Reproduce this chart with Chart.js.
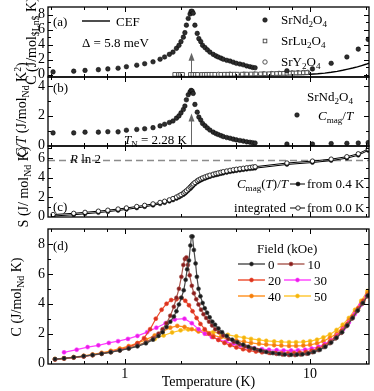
<!DOCTYPE html>
<html>
<head>
<meta charset="utf-8">
<script src="https://cdn.jsdelivr.net/npm/chart.js@4.4.1/dist/chart.umd.min.js"></script>
<style>
  html, body { margin: 0; padding: 0; background: #fff; }
  #wrap { position: relative; width: 374px; height: 391px; }
  #wrap canvas { position: absolute; left: 0; top: 0; }
</style>
</head>
<body>
<div id="wrap">
  <canvas id="panelA" width="374" height="391"></canvas>
  <canvas id="panelB" width="374" height="391"></canvas>
  <canvas id="panelC" width="374" height="391"></canvas>
  <canvas id="panelD" width="374" height="391"></canvas>
</div>
<script>
// ---- data ----
var tempNd = [0.41,0.53,0.61,0.72,0.81,0.92,1.02,1.16,1.28,1.42,1.55,1.64,1.74,1.82,1.90,1.96,2.01,2.07,2.11,2.15,2.20,2.25,2.28,2.31,2.34,2.39,2.46,2.51,2.57,2.63,2.71,2.79,2.88,3.0,3.1,3.19,3.3,3.4,3.55,3.7,3.85,4.0,4.18,4.36,4.55,4.74,4.9,5.05,7.5,10.3,13.0,15.8,18.2,20.6];
var cNd = [0.35,0.45,0.55,0.65,0.75,0.85,1.05,1.25,1.45,1.7,2.05,2.35,2.7,3.0,3.5,3.9,4.4,5.0,5.6,6.6,7.5,8.1,8.45,8.45,8.2,6.6,5.5,4.8,4.4,3.9,3.6,3.3,3.0,2.7,2.5,2.35,2.2,2.05,1.9,1.8,1.65,1.5,1.4,1.3,1.15,1.05,0.95,0.9,0.5,0.75,1.5,2.35,3.4,4.7];
var cmagOverT = [0.85,0.85,0.9,0.9,0.93,0.92,1.03,1.08,1.13,1.2,1.32,1.43,1.55,1.65,1.84,1.99,2.19,2.42,2.65,3.07,3.41,3.6,3.7,3.66,3.5,2.76,2.24,1.91,1.71,1.48,1.33,1.18,1.04,0.9,0.81,0.74,0.67,0.6,0.54,0.49,0.43,0.38,0.34,0.3,0.25,0.22,0.19,0.17,0.1,0.1,0.13,0.15,0.17,0.2];
var sFrom04 = [0.05,0.18,0.28,0.4,0.5,0.62,0.73,0.88,1.0,1.15,1.3,1.42,1.56,1.7,1.85,1.98,2.1,2.25,2.37,2.5,2.68,2.85,2.96,3.08,3.2,3.35,3.52,3.63,3.73,3.82,3.92,4.01,4.1,4.2,4.27,4.33,4.4,4.46,4.53,4.6,4.66,4.71,4.76,4.81,4.86,4.9,4.94,4.97,5.35,5.55,5.75,6.0,6.3,6.8];
var sFrom00 = [0.2,0.33,0.43,0.55,0.65,0.77,0.88,1.03,1.15,1.3,1.45,1.57,1.71,1.85,2.0,2.13,2.25,2.4,2.52,2.65,2.83,3.0,3.11,3.23,3.35,3.5,3.67,3.78,3.88,3.97,4.07,4.16,4.25,4.35,4.42,4.48,4.55,4.61,4.68,4.75,4.81,4.86,4.91,4.96,5.01,5.05,5.09,5.12,5.5,5.7,5.9,6.15,6.45,6.95];

var tempLu = [1.86,1.95,2.0,2.05,2.26,2.33,2.4,2.47,2.6,2.68,2.76,2.85,2.95,3.06,3.3,3.45,3.6,3.75,3.9,4.05,4.3,4.55,4.8,5.1,5.4,5.7,6.0,6.3,6.6,6.9,7.2,7.5,7.8,8.1,8.4,8.8,9.2,9.6];
var cLu = [0.02,0.02,0.02,0.02,0.02,0.02,0.02,0.02,0.02,0.02,0.03,0.03,0.03,0.03,0.03,0.04,0.04,0.04,0.05,0.05,0.05,0.06,0.07,0.08,0.09,0.1,0.11,0.12,0.14,0.15,0.16,0.18,0.19,0.2,0.21,0.22,0.24,0.26];
var tempY = [3.2,3.7,4.4,5.0,5.6,6.2,6.8,7.4,8.0,8.6,9.2,9.7];
var cY = [0.03,0.04,0.05,0.07,0.1,0.13,0.16,0.2,0.23,0.26,0.28,0.3];
var tempCef = [3,5,8,9,10,11,12,13,14,15,16,17,18,19,20,20.8];
var cCef = [0,0,0,0.01,0.04,0.1,0.19,0.3,0.43,0.57,0.72,0.87,1.03,1.2,1.37,1.52];

var fieldValues = [0, 10, 20, 30, 40, 50];
var field0 = [[0.42,0.3],[0.47,0.35],[0.53,0.42],[0.6,0.5],[0.67,0.58],[0.75,0.66],[0.84,0.76],[0.94,0.88],[1.05,1.0],[1.17,1.15],[1.3,1.35],[1.42,1.6],[1.52,1.85],[1.6,2.1],[1.68,2.45],[1.76,2.8],[1.84,3.15],[1.9,3.5],[1.96,3.95],[2.02,4.4],[2.08,4.9],[2.13,5.6],[2.17,6.3],[2.22,6.9],[2.26,7.9],[2.29,8.5],[2.32,8.5],[2.36,7.6],[2.41,6.7],[2.45,5.8],[2.5,5.0],[2.56,4.5],[2.63,4.05],[2.7,3.7],[2.78,3.4],[2.87,3.1],[2.97,2.8],[3.07,2.6],[3.2,2.35],[3.35,2.1],[3.55,1.85],[3.8,1.6],[4.05,1.42],[4.35,1.26],[4.65,1.12],[5.0,1.0],[5.4,0.88],[5.8,0.78],[6.3,0.7],[6.8,0.65],[7.3,0.61],[7.9,0.59],[8.5,0.6],[9.1,0.62],[9.8,0.68],[10.5,0.78],[11.3,0.92],[12.1,1.12],[13.0,1.4],[13.9,1.72],[14.9,2.1],[15.9,2.55],[17.0,3.05],[18.1,3.55],[19.3,4.05],[20.5,4.55]];
var field10 = [[0.42,0.28],[0.47,0.34],[0.53,0.4],[0.6,0.48],[0.67,0.56],[0.75,0.65],[0.84,0.76],[0.94,0.88],[1.05,1.02],[1.17,1.2],[1.3,1.42],[1.42,1.7],[1.52,2.0],[1.6,2.3],[1.68,2.7],[1.76,3.2],[1.84,3.8],[1.9,4.4],[1.96,5.0],[2.02,5.8],[2.07,6.6],[2.11,7.0],[2.15,7.1],[2.19,6.6],[2.24,5.9],[2.3,5.2],[2.36,4.7],[2.43,4.3],[2.5,3.95],[2.58,3.6],[2.66,3.3],[2.75,3.05],[2.85,2.8],[2.96,2.55],[3.08,2.3],[3.22,2.1],[3.4,1.88],[3.62,1.65],[3.88,1.45],[4.15,1.3],[4.45,1.16],[4.8,1.03],[5.2,0.9],[5.6,0.8],[6.1,0.71],[6.6,0.65],[7.1,0.6],[7.7,0.57],[8.3,0.57],[8.9,0.6],[9.6,0.66],[10.3,0.76],[11.1,0.9],[11.9,1.1],[12.8,1.36],[13.7,1.68],[14.7,2.05],[15.7,2.5],[16.8,3.0],[17.9,3.5],[19.1,4.0],[20.4,4.5]];
var field20 = [[0.42,0.27],[0.47,0.33],[0.53,0.4],[0.6,0.48],[0.67,0.57],[0.75,0.67],[0.84,0.79],[0.94,0.93],[1.05,1.1],[1.17,1.35],[1.27,1.7],[1.37,2.3],[1.47,3.0],[1.58,3.6],[1.68,4.0],[1.78,4.25],[1.9,4.3],[2.02,4.4],[2.12,4.2],[2.22,3.9],[2.32,3.5],[2.44,3.05],[2.56,2.65],[2.7,2.3],[2.85,2.0],[3.0,1.78],[3.2,1.58],[3.45,1.38],[3.7,1.22],[4.0,1.08],[4.35,0.96],[4.7,0.87],[5.1,0.8],[5.5,0.75],[6.0,0.72],[6.5,0.7],[7.0,0.69],[7.6,0.69],[8.2,0.7],[8.8,0.73],[9.5,0.78],[10.2,0.86],[11.0,1.0],[11.9,1.2],[12.8,1.47],[13.8,1.8],[14.8,2.2],[15.9,2.65],[17.0,3.15],[18.2,3.7],[19.4,4.2],[20.5,4.55]];
var field30 = [[0.47,0.75],[0.55,0.93],[0.63,1.1],[0.72,1.22],[0.82,1.38],[0.92,1.5],[1.04,1.65],[1.17,1.85],[1.32,2.1],[1.48,2.4],[1.66,2.7],[1.86,2.95],[2.1,3.0],[2.3,2.7],[2.5,2.3],[2.7,2.0],[2.95,1.78],[3.2,1.6],[3.5,1.45],[3.85,1.32],[4.2,1.2],[4.6,1.1],[5.0,1.02],[5.5,0.96],[6.0,0.92],[6.6,0.9],[7.2,0.88],[7.9,0.88],[8.6,0.89],[9.4,0.93],[10.2,1.0],[11.1,1.12],[12.0,1.3],[13.0,1.55],[14.0,1.88],[15.1,2.3],[16.2,2.75],[17.4,3.3],[18.7,3.9],[20.2,4.5]];
var field40 = [[0.42,0.3],[0.47,0.36],[0.53,0.43],[0.6,0.52],[0.67,0.61],[0.75,0.72],[0.84,0.85],[0.94,1.0],[1.05,1.17],[1.17,1.37],[1.3,1.6],[1.45,1.88],[1.6,2.15],[1.76,2.4],[1.92,2.52],[2.1,2.45],[2.3,2.3],[2.5,2.15],[2.75,2.0],[3.0,1.88],[3.3,1.76],[3.6,1.65],[4.0,1.55],[4.4,1.46],[4.8,1.38],[5.3,1.32],[5.8,1.27],[6.4,1.23],[7.0,1.2],[7.7,1.18],[8.4,1.18],[9.2,1.2],[10.0,1.25],[10.9,1.35],[11.8,1.5],[12.8,1.72],[13.9,2.0],[15.0,2.4],[16.2,2.9],[17.5,3.45],[18.9,4.05],[20.4,4.7]];
var field50 = [[0.42,0.3],[0.47,0.35],[0.53,0.41],[0.6,0.49],[0.67,0.57],[0.75,0.66],[0.84,0.77],[0.94,0.9],[1.05,1.05],[1.17,1.22],[1.3,1.42],[1.45,1.65],[1.62,1.88],[1.8,2.08],[2.0,2.22],[2.2,2.28],[2.45,2.25],[2.7,2.18],[3.0,2.1],[3.3,2.0],[3.6,1.92],[4.0,1.82],[4.4,1.73],[4.8,1.65],[5.3,1.58],[5.8,1.52],[6.4,1.48],[7.0,1.45],[7.7,1.43],[8.4,1.43],[9.2,1.45],[10.0,1.5],[10.9,1.6],[11.8,1.75],[12.8,1.95],[13.9,2.25],[15.0,2.6],[16.2,3.05],[17.5,3.6],[18.9,4.2],[20.4,4.85]];

var xLabelTicks = [1, 10];
var xMinorTicks = [0.4, 0.6, 0.8, 2, 4, 6, 8, 20];
var yTicksA = [0, 2, 4, 6, 8], yMinorA = [1, 3, 5, 7, 9];
var yTicksB = [0, 2, 4], yMinorB = [1, 3];
var yTicksC = [0, 2, 4, 6], yMinorC = [1, 3, 5, 7];
var yTicksD = [0, 2, 4, 6, 8], yMinorD = [1, 3, 5, 7];

var TN = 2.28, RLN2 = 5.76;
var X_MIN = 0.385, X_MAX = 20.8;

// ---- helpers ----
var SERIF = '"Liberation Serif", "Times New Roman", serif';
var tickFont = { family: SERIF, size: 14 };

function pts(xs, ys) { return xs.map(function (x, i) { return { x: x, y: ys[i] }; }); }
function pairs(list) { return list.map(function (p) { return { x: p[0], y: p[1] }; }); }

// tiny rich text: $..$ italic, _{..} subscript, ^{..} superscript
function parseRich(str) {
  var out = [], italic = false, buf = '', i = 0;
  function flush() { if (buf) out.push({ text: buf, mode: 0, italic: italic }); buf = ''; }
  while (i < str.length) {
    var c = str[i];
    if (c === '$') { flush(); italic = !italic; i++; }
    else if ((c === '_' || c === '^') && str[i + 1] === '{') {
      flush();
      var end = str.indexOf('}', i);
      out.push({ text: str.slice(i + 2, end), mode: c === '_' ? 1 : -1, italic: italic });
      i = end + 1;
    } else { buf += c; i++; }
  }
  flush();
  return out;
}
function rich(ctx, str, x, y, size, align) {
  var parts = parseRich(str), w = 0;
  function font(p) { return (p.italic ? 'italic ' : '') + (p.mode ? size * 0.7 : size) + 'px ' + SERIF; }
  parts.forEach(function (p) { ctx.font = font(p); p.w = ctx.measureText(p.text).width; w += p.w; });
  var cx = align === 'center' ? x - w / 2 : align === 'right' ? x - w : x;
  ctx.textAlign = 'left'; ctx.textBaseline = 'alphabetic'; ctx.fillStyle = '#000';
  parts.forEach(function (p) {
    ctx.font = font(p);
    var dy = p.mode === 1 ? size * 0.25 : p.mode === -1 ? -size * 0.38 : 0;
    ctx.fillText(p.text, cx, y + dy);
    cx += p.w;
  });
  return w;
}
function vTitle(ctx, str, xc, yc, size) {
  ctx.save(); ctx.translate(xc, yc); ctx.rotate(-Math.PI / 2);
  rich(ctx, str, 0, size * 0.35, size, 'center');
  ctx.restore();
}
function dot(ctx, x, y, r, fill, stroke, lw) {
  ctx.beginPath(); ctx.arc(x, y, r, 0, Math.PI * 2);
  ctx.fillStyle = fill; ctx.fill();
  if (stroke) { ctx.lineWidth = lw || 0.8; ctx.strokeStyle = stroke; ctx.stroke(); }
}
function upArrow(ctx, x, y0, y1) {
  ctx.strokeStyle = '#666'; ctx.fillStyle = '#666'; ctx.lineWidth = 1;
  ctx.beginPath(); ctx.moveTo(x, y0); ctx.lineTo(x, y1 + 5); ctx.stroke();
  ctx.beginPath(); ctx.moveTo(x, y1); ctx.lineTo(x - 3, y1 + 8); ctx.lineTo(x + 3, y1 + 8); ctx.closePath(); ctx.fill();
}

function framePlugin(yMajor, yMinor) {
  return {
    id: 'frame',
    afterDatasetsDraw: function (chart) {
      var ctx = chart.ctx, a = chart.chartArea, xs = chart.scales.x, ys = chart.scales.y;
      ctx.save();
      ctx.strokeStyle = '#000'; ctx.lineWidth = 1;
      ctx.beginPath();
      function vt(vals, len) {
        vals.forEach(function (v) {
          var px = Math.round(xs.getPixelForValue(v)) + 0.5;
          if (px <= a.left + 1 || px >= a.right - 1) return;
          ctx.moveTo(px, a.top); ctx.lineTo(px, a.top + len);
          ctx.moveTo(px, a.bottom); ctx.lineTo(px, a.bottom - len);
        });
      }
      function ht(vals, len) {
        vals.forEach(function (v) {
          var py = Math.round(ys.getPixelForValue(v)) + 0.5;
          if (py <= a.top + 1 || py >= a.bottom - 1) return;
          ctx.moveTo(a.left, py); ctx.lineTo(a.left + len, py);
          ctx.moveTo(a.right, py); ctx.lineTo(a.right - len, py);
        });
      }
      vt(xLabelTicks, 5); vt(xMinorTicks, 3); ht(yMajor, 5); ht(yMinor, 3);
      ctx.stroke();
      ctx.lineWidth = 1.3;
      ctx.strokeRect(a.left, a.top, a.right - a.left, a.bottom - a.top);
      ctx.restore();
    }
  };
}
function notes(fn) { return { id: 'notes', afterDraw: function (chart) { var c = chart.ctx; c.save(); fn(c, chart); c.restore(); } }; }

function yAxis(min, max, ticks) {
  return {
    type: 'linear', min: min, max: max,
    grid: { display: false, drawTicks: false }, border: { display: false },
    ticks: { font: tickFont, color: '#000', padding: 3, autoSkip: false },
    afterBuildTicks: function (s) { s.ticks = ticks.map(function (v) { return { value: v }; }); },
    afterFit: function (s) { s.width = 48; s.paddingTop = 0; s.paddingBottom = 0; }
  };
}
function hiddenX() {
  return { type: 'logarithmic', min: X_MIN, max: X_MAX, display: false };
}
function makeChart(id, datasets, padTop, padBottom, xScale, yScale, plugins) {
  return new Chart(document.getElementById(id), {
    type: 'scatter',
    data: { datasets: datasets },
    options: {
      responsive: false, animation: false, events: [],
      layout: { padding: { left: 0, right: 5, top: padTop, bottom: padBottom } },
      plugins: { legend: { display: false }, tooltip: { enabled: false } },
      scales: { x: xScale, y: yScale }
    },
    plugins: plugins
  });
}

var ndPoint = { showLine: false, pointRadius: 2.3, pointBackgroundColor: '#2e2e2e', pointBorderColor: '#000', pointBorderWidth: 0.5 };
function withStyle(style, extra) { return Object.assign({}, style, extra); }

// ---- panel (a) ----
makeChart('panelA', [
  withStyle(ndPoint, { label: 'SrNd2O4', data: pts(tempNd, cNd) }),
  { label: 'SrLu2O4', data: pts(tempLu, cLu), showLine: false, pointStyle: 'rect', pointRadius: 2.6, pointBackgroundColor: '#fff', pointBorderColor: '#444', pointBorderWidth: 0.9 },
  { label: 'SrY2O4', data: pts(tempY, cY), showLine: false, pointRadius: 2.2, pointBackgroundColor: '#fff', pointBorderColor: '#444', pointBorderWidth: 0.9 },
  { label: 'CEF', data: pts(tempCef, cCef), showLine: true, pointRadius: 0, borderColor: '#000', borderWidth: 1.4 }
], 7, 391 - 77, hiddenX(), yAxis(-0.33, 9.03, yTicksA), [
  framePlugin(yTicksA, yMinorA),
  notes(function (ctx, chart) {
    var xs = chart.scales.x, ys = chart.scales.y;
    rich(ctx, '(a)', 53, 26, 13);
    ctx.strokeStyle = '#000'; ctx.lineWidth = 1.4;
    ctx.beginPath(); ctx.moveTo(82, 21); ctx.lineTo(110, 21); ctx.stroke();
    rich(ctx, 'CEF', 116, 26, 13);
    rich(ctx, '\u0394 = 5.8 meV', 82, 47, 13);
    dot(ctx, 265, 20, 2.3, '#2e2e2e', '#000', 0.5);
    rich(ctx, 'SrNd_{2}O_{4}', 281, 24, 13);
    ctx.fillStyle = '#fff'; ctx.strokeStyle = '#444'; ctx.lineWidth = 0.9;
    ctx.fillRect(263.2, 39.2, 3.6, 3.6); ctx.strokeRect(263.2, 39.2, 3.6, 3.6);
    rich(ctx, 'SrLu_{2}O_{4}', 281, 45, 13);
    dot(ctx, 265, 62, 2.2, '#fff', '#444', 0.9);
    rich(ctx, 'SrY_{2}O_{4}', 281, 66, 13);
    upArrow(ctx, Math.round(xs.getPixelForValue(TN)) + 0.5, ys.getPixelForValue(0.3), ys.getPixelForValue(2.9));
    vTitle(ctx, 'C (J/mol_{$Ln$} K)', 31, 41, 14);
  })
]);

// ---- panel (b) ----
makeChart('panelB', [
  withStyle(ndPoint, { label: 'Cmag/T', data: pts(tempNd, cmagOverT) })
], 77, 391 - 146, hiddenX(), yAxis(-0.03, 4.6, yTicksB), [
  framePlugin(yTicksB, yMinorB),
  notes(function (ctx, chart) {
    var xs = chart.scales.x, ys = chart.scales.y;
    rich(ctx, '(b)', 53, 92, 13);
    rich(ctx, 'SrNd_{2}O_{4}', 307, 101, 13);
    dot(ctx, 297, 115, 2.3, '#2e2e2e', '#000', 0.5);
    rich(ctx, '$C$_{mag}/$T$', 318, 120, 13);
    rich(ctx, '$T$_{N} = 2.28 K', 187, 144, 13, 'right');
    upArrow(ctx, Math.round(xs.getPixelForValue(TN)) + 0.5, ys.getPixelForValue(0.05), ys.getPixelForValue(2.15));
    vTitle(ctx, '$C/T$ (J/mol_{Nd} K^{2})', 21, 110, 14);
  })
]);

// ---- panel (c) ----
makeChart('panelC', [
  { label: 'from 0.0 K', data: pts(tempNd, sFrom00), showLine: true, borderColor: '#000', borderWidth: 1, pointRadius: 2.2, pointBackgroundColor: '#fff', pointBorderColor: '#000', pointBorderWidth: 0.8 },
  { label: 'from 0.4 K', data: pts(tempNd, sFrom04), showLine: true, borderColor: '#000', borderWidth: 1, pointRadius: 2, pointBackgroundColor: '#111', pointBorderColor: '#000', pointBorderWidth: 0.5 },
  { label: 'R ln 2', data: [{ x: X_MIN, y: RLN2 }, { x: X_MAX, y: RLN2 }], showLine: true, pointRadius: 0, borderColor: '#8c8c8c', borderWidth: 1.3, borderDash: [7, 4] }
], 146, 391 - 217, hiddenX(), yAxis(-0.05, 7.25, yTicksC), [
  framePlugin(yTicksC, yMinorC),
  notes(function (ctx) {
    rich(ctx, '$R$ ln 2', 70, 163, 13);
    rich(ctx, '(c)', 53, 211, 13);
    rich(ctx, '$C$_{mag}($T$)/$T$', 288, 188, 13, 'right');
    ctx.strokeStyle = '#000'; ctx.lineWidth = 1;
    ctx.beginPath(); ctx.moveTo(290, 184); ctx.lineTo(305, 184); ctx.moveTo(290, 208); ctx.lineTo(305, 208); ctx.stroke();
    dot(ctx, 298, 184, 2, '#111', '#000', 0.5);
    dot(ctx, 298, 208, 2.2, '#fff', '#000', 0.8);
    rich(ctx, 'from 0.4 K', 307, 188, 13);
    rich(ctx, 'integrated', 286, 212, 13, 'right');
    rich(ctx, 'from 0.0 K', 307, 212, 13);
    vTitle(ctx, 'S (J/ mol_{Nd} K)', 23, 187, 14);
  })
]);

// ---- panel (d) ----
var fieldSeries = [field0, field10, field20, field30, field40, field50];
var fieldStyles = [
  { line: '#4a4a4a', fill: '#1a1a1a' },
  { line: '#a8584f', fill: '#8a1c1c' },
  { line: '#ec4a2c', fill: '#d93220' },
  { line: '#ff3cff', fill: '#e81ee8' },
  { line: '#ff8e1c', fill: '#f27d0c' },
  { line: '#ffc52a', fill: '#f2b40c' }
];
var dSets = fieldSeries.map(function (s, i) {
  return { label: fieldValues[i] + ' kOe', data: pairs(s), showLine: true, borderColor: fieldStyles[i].line, borderWidth: 1.2,
    pointRadius: 2, pointBackgroundColor: fieldStyles[i].fill, pointBorderColor: fieldStyles[i].line, pointBorderWidth: 0.6 };
});
makeChart('panelD', dSets, 229, 0, {
  type: 'logarithmic', min: X_MIN, max: X_MAX,
  grid: { display: false, drawTicks: false }, border: { display: false },
  ticks: { font: tickFont, color: '#000', padding: 2, autoSkip: false, maxRotation: 0,
    callback: function (v) { return String(v); } },
  afterBuildTicks: function (s) { s.ticks = xLabelTicks.map(function (v) { return { value: v }; }); },
  title: { display: true, text: 'Temperature (K)', font: { family: SERIF, size: 14 }, color: '#000', padding: { top: 0, bottom: 0 } },
  afterFit: function (s) { s.height = 27; s.paddingLeft = 0; s.paddingRight = 0; }
}, yAxis(-0.03, 9.0, yTicksD), [
  framePlugin(yTicksD, yMinorD),
  notes(function (ctx) {
    rich(ctx, '(d)', 53, 250, 13);
    rich(ctx, 'Field (kOe)', 257, 253, 13);
    [[0, 1], [2, 3], [4, 5]].forEach(function (row, r) {
      var yy = 264 + r * 16, xx = 238;
      row.forEach(function (idx) {
        var st = fieldStyles[idx];
        ctx.strokeStyle = st.line; ctx.lineWidth = 1.4;
        ctx.beginPath(); ctx.moveTo(xx, yy); ctx.lineTo(xx + 27, yy); ctx.stroke();
        dot(ctx, xx + 13.5, yy, 2, st.fill, st.line, 0.6);
        var w = rich(ctx, String(fieldValues[idx]), xx + 30, yy + 4.5, 13);
        xx = xx + 30 + w + 3;
      });
    });
    vTitle(ctx, 'C (J/mol_{Nd} K)', 16, 297, 14);
  })
]);
</script>
</body>
</html>
